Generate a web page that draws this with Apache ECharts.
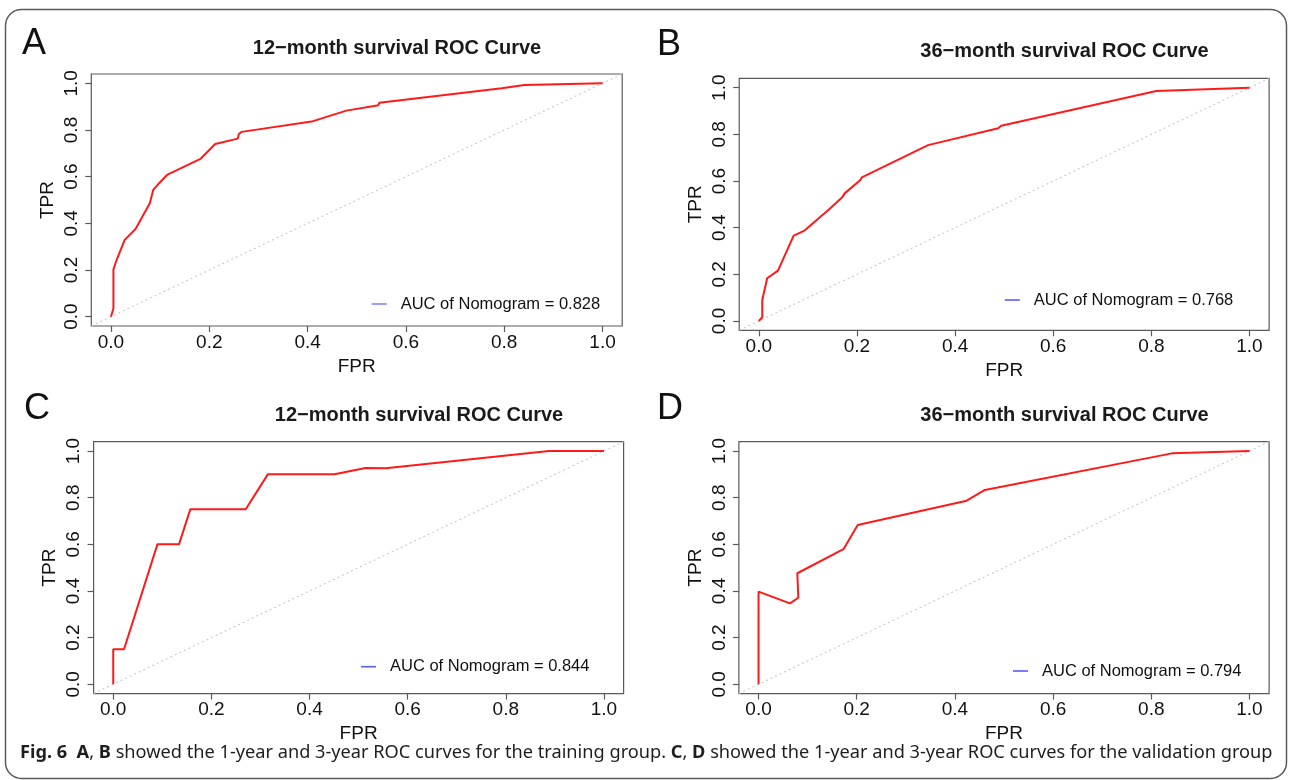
<!DOCTYPE html>
<html>
<head>
<meta charset="utf-8">
<title>ROC curves</title>
<script src="https://cdn.jsdelivr.net/npm/echarts@6/dist/echarts.min.js"></script>
<style>
  html, body { margin: 0; padding: 0; background: #ffffff; }
  #chart { width: 1290px; height: 780px; }
</style>
</head>
<body>
<div id="chart"></div>
<script>
// ROC points (false positive rate, true positive rate) for each model panel
const fprA = [0, 0.005, 0.005, 0.012, 0.028, 0.050, 0.079, 0.086, 0.098, 0.101, 0.115, 0.182, 0.212, 0.258, 0.260, 0.266, 0.408, 0.479, 0.544, 0.546, 0.795, 0.841, 1];
const tprA = [0, 0.036, 0.203, 0.246, 0.329, 0.376, 0.486, 0.543, 0.572, 0.575, 0.609, 0.676, 0.740, 0.763, 0.783, 0.792, 0.836, 0.883, 0.906, 0.917, 0.979, 0.993, 1];

const fprB = [0, 0.007, 0.007, 0.017, 0.039, 0.071, 0.092, 0.144, 0.148, 0.170, 0.175, 0.207, 0.210, 0.345, 0.488, 0.494, 0.810, 1];
const tprB = [0, 0.016, 0.090, 0.183, 0.216, 0.366, 0.386, 0.480, 0.483, 0.530, 0.547, 0.604, 0.616, 0.754, 0.826, 0.837, 0.986, 1];

const fprC = [0, 0, 0.022, 0.090, 0.134, 0.157, 0.270, 0.315, 0.451, 0.514, 0.555, 0.888, 1];
const tprC = [0, 0.150, 0.150, 0.600, 0.600, 0.750, 0.750, 0.900, 0.900, 0.927, 0.926, 1.0, 1];

const fprD = [0, 0, 0.064, 0.081, 0.079, 0.173, 0.202, 0.424, 0.461, 0.842, 1];
const tprD = [0, 0.397, 0.347, 0.371, 0.476, 0.579, 0.683, 0.787, 0.833, 0.990, 1];

const aucValues = [0.828, 0.768, 0.844, 0.794];
const panelLetters = ['A', 'B', 'C', 'D'];
const panelTitles = ['12\u2212month survival ROC Curve', '36\u2212month survival ROC Curve',
                     '12\u2212month survival ROC Curve', '36\u2212month survival ROC Curve'];
const tickValues = [0, 0.2, 0.4, 0.6, 0.8, 1.0];
const tickLabels = ['0.0', '0.2', '0.4', '0.6', '0.8', '1.0'];
const xAxisName = 'FPR';
const yAxisName = 'TPR';

// axis range padded by 4% on both ends, like base R plots
const axisMin = -0.04;
const axisMax = 1.04;

// layout of the four plot boxes (pixels)
const boxes = [
  { left: 91.3,  top: 74.0,  right: 622.2,  bottom: 326.0 },
  { left: 739.2, top: 78.4,  right: 1269.1, bottom: 330.3 },
  { left: 93.6,  top: 441.7, right: 623.6,  bottom: 693.6 },
  { left: 738.9, top: 441.7, right: 1269.1, bottom: 693.6 }
];
const titlePos = [[397, 48], [1064.5, 51.7], [419, 415], [1064.5, 415]];
const letterPos = [[22, 26], [657, 27], [24, 391], [657, 391]];
const legendPos = [[371.7, 304], [1004.8, 300], [361, 666.7], [1013, 671]];
const legendColors = ['#8484ff', '#5a5aff', '#5a5aff', '#5a5aff'];

const FONT = 'Liberation Sans, Arial, Helvetica, sans-serif';
const rocData = [[fprA, tprA], [fprB, tprB], [fprC, tprC], [fprD, tprD]];

const labelOf = v => tickLabels[tickValues.indexOf(Math.round(v * 10) / 10)];

const grids = [], xAxes = [], yAxes = [], series = [], legends = [], graphics = [];

boxes.forEach((b, i) => {
  grids.push({
    left: b.left, top: b.top, width: b.right - b.left, height: b.bottom - b.top,
    show: true, borderColor: '#5a5a5a', borderWidth: 1.2, backgroundColor: 'transparent',
    containLabel: false
  });
  xAxes.push({
    type: 'value', gridIndex: i, min: axisMin, max: axisMax,
    splitLine: { show: false },
    axisLine: { show: false, onZero: false },
    axisTick: { show: true, length: 6, customValues: tickValues,
                lineStyle: { color: '#5a5a5a', width: 1.2 } },
    axisLabel: { show: true, customValues: tickValues, margin: 7, formatter: labelOf,
                 fontFamily: FONT, fontSize: 19, color: '#111' },
    name: xAxisName, nameLocation: 'middle', nameGap: 31,
    nameTextStyle: { fontFamily: FONT, fontSize: 19, color: '#111' }
  });
  yAxes.push({
    type: 'value', gridIndex: i, min: axisMin, max: axisMax,
    splitLine: { show: false },
    axisLine: { show: false, onZero: false },
    axisTick: { show: true, length: 6, customValues: tickValues,
                lineStyle: { color: '#5a5a5a', width: 1.2 } },
    axisLabel: { show: true, customValues: tickValues, rotate: 90, margin: 10, formatter: labelOf,
                 fontFamily: FONT, fontSize: 19, color: '#111' },
    name: yAxisName, nameLocation: 'middle', nameGap: 34, nameRotate: 90,
    nameTextStyle: { fontFamily: FONT, fontSize: 19, color: '#111' }
  });

  // chance diagonal across the whole plot box
  series.push({
    type: 'line', xAxisIndex: i, yAxisIndex: i, silent: true, symbol: 'none',
    data: [[axisMin, axisMin], [axisMax, axisMax]],
    lineStyle: { color: '#c8c8c8', width: 1.1, type: [2, 3] },
    z: 1
  });

  // ROC curve
  const [fpr, tpr] = rocData[i];
  series.push({
    type: 'line', xAxisIndex: i, yAxisIndex: i, silent: true, symbol: 'none',
    data: fpr.map((x, k) => [x, tpr[k]]),
    lineStyle: { color: '#ff1a1a', width: 2 },
    z: 3
  });

  // legend entry carrying the AUC
  const aucName = 'AUC of Nomogram = ' + aucValues[i].toFixed(3);
  series.push({
    type: 'line', xAxisIndex: i, yAxisIndex: i, name: aucName, data: [],
    itemStyle: { color: legendColors[i] }, lineStyle: { color: legendColors[i] }
  });
  legends.push({
    data: [{ name: aucName, icon: 'rect' }],
    left: legendPos[i][0], top: legendPos[i][1] - 10, padding: 0,
    itemWidth: 15, itemHeight: 1.6, selectedMode: false,
    textStyle: { fontFamily: FONT, fontSize: 16.5, color: '#111', lineHeight: 20,
                 padding: [0, 0, 0, 9] }
  });

  graphics.push({
    type: 'text', x: titlePos[i][0], y: titlePos[i][1],
    style: { text: panelTitles[i], font: 'bold 20px ' + FONT, fill: '#1a1a1a',
             align: 'center', verticalAlign: 'middle' }
  });
  graphics.push({
    type: 'text', x: letterPos[i][0], y: letterPos[i][1],
    style: { text: panelLetters[i], font: '36px ' + FONT, fill: '#111',
             align: 'left', verticalAlign: 'top' }
  });
});

// figure frame
graphics.unshift({
  type: 'rect', z: -1,
  shape: { x: 5.5, y: 9.5, width: 1281, height: 769, r: 16 },
  style: { fill: '#ffffff', stroke: '#5a5a5a', lineWidth: 1.5 }
});

// caption
graphics.push({
  type: 'text', x: 20, y: 753,
  style: {
    text: '{b|Fig. 6}  {b|A}, {b|B} showed the 1-year and 3-year ROC curves for the training group. {b|C}, {b|D} showed the 1-year and 3-year ROC curves for the validation group',
    font: '18.2px Noto Sans, Open Sans, sans-serif', fill: '#1e1e1e',
    verticalAlign: 'middle',
    rich: { b: { fontWeight: 'bold', fontFamily: 'Noto Sans', fontSize: 18.2, fill: '#1e1e1e' } }
  }
});

const chart = echarts.init(document.getElementById('chart'), null, { renderer: 'canvas' });
chart.setOption({
  backgroundColor: '#ffffff',
  animation: false,
  grid: grids,
  xAxis: xAxes,
  yAxis: yAxes,
  series: series,
  legend: legends,
  graphic: graphics
});
</script>
</body>
</html>
